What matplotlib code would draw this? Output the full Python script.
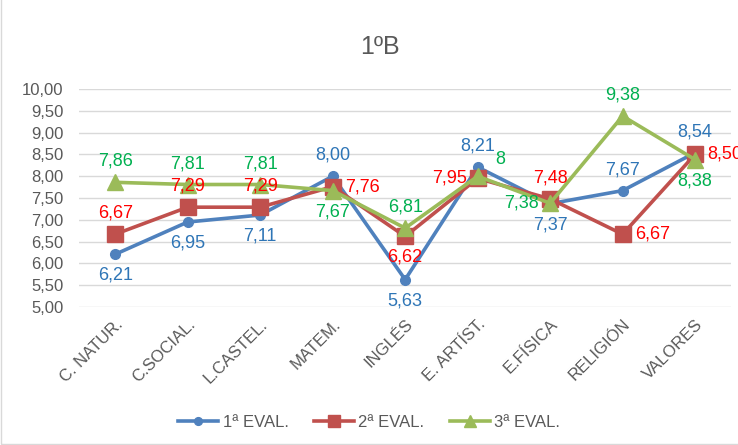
import matplotlib
matplotlib.use("Agg")
import matplotlib.pyplot as plt
from matplotlib.patches import Rectangle

plt.rcParams['font.family'] = ['Liberation Sans', 'DejaVu Sans']

# datos
materias = ["C. NATUR.", "C.SOCIAL.", "L.CASTEL.", "MATEM.", "INGLÉS",
            "E. ARTÍST.", "E.FÍSICA", "RELIGIÓN", "VALORES"]
eval1 = [6.21, 6.95, 7.11, 8.00, 5.63, 8.21, 7.37, 7.67, 8.54]
eval2 = [6.67, 7.29, 7.29, 7.76, 6.62, 7.95, 7.48, 6.67, 8.50]
eval3 = [7.86, 7.81, 7.81, 7.67, 6.81, 8.00, 7.38, 9.38, 8.38]
etiq1 = ["6,21", "6,95", "7,11", "8,00", "5,63", "8,21", "7,37", "7,67", "8,54"]
etiq2 = ["6,67", "7,29", "7,29", "7,76", "6,62", "7,95", "7,48", "6,67", "8,50"]
etiq3 = ["7,86", "7,81", "7,81", "7,67", "6,81", "8", "7,38", "9,38", "8,38"]
yticks = [5.0, 5.5, 6.0, 6.5, 7.0, 7.5, 8.0, 8.5, 9.0, 9.5, 10.0]

# posiciones de las etiquetas
pos1 = ["b", "b", "b", "a", "b", "a", "b", "a", "a"]
pos2 = ["a", "a", "a", "r", "b", "l", "a", "r", "r"]
pos3 = ["a", "a", "a", "b", "a", "ar", "l", "a", "b"]

offs = {"a": (0, 9, "center", "bottom"), "b": (0, -9, "center", "top"),
        "r": (9, 0, "left", "center"), "l": (-8, 0, "right", "center"),
        "ar": (13, 6, "left", "bottom")}

fig = plt.figure(figsize=(7.38, 4.45), dpi=100)
ax = fig.add_axes([0.107, 0.31, 0.884, 0.49])

x = list(range(len(materias)))
series = [
    (eval1, etiq1, pos1, "1ª EVAL.", "#4F81BD", "#2E75B6", "o", 7),
    (eval2, etiq2, pos2, "2ª EVAL.", "#C0504D", "#FF0000", "s", 11),
    (eval3, etiq3, pos3, "3ª EVAL.", "#9BBB59", "#00B050", "^", 11),
]
for vals, etiq, pos, nombre, col, colt, mk, ms in series:
    ax.plot(x, vals, color=col, lw=2.6, marker=mk, markersize=ms, label=nombre, zorder=3)
    for xi, v, t, p in zip(x, vals, etiq, pos):
        dx, dy, ha, va = offs[p]
        ax.annotate(t, (xi, v), xytext=(dx, dy), textcoords="offset points",
                    ha=ha, va=va, color=colt, fontsize=13, annotation_clip=False, zorder=4)

ax.set_xlim(-0.5, len(materias) - 0.5)
ax.set_ylim(5, 10)
ax.set_yticks(yticks)
ax.set_yticklabels([f"{t:.2f}".replace(".", ",") for t in yticks], color="#595959", fontsize=12)
ax.set_xticks(x)
ax.set_xticklabels(materias, rotation=45, ha="right", rotation_mode="anchor",
                   color="#595959", fontsize=12)
ax.tick_params(axis="y", length=0, pad=11)
ax.tick_params(axis="x", length=0, pad=7)
ax.grid(axis="y", color="#D9D9D9", lw=1)
for s in ax.spines.values():
    s.set_visible(False)

fig.text(0.515, 0.895, "1ºB", ha="center", va="center", fontsize=18, color="#595959")

ax.legend(loc="center", bbox_to_anchor=(0.5, 0.05), bbox_transform=fig.transFigure,
          ncol=3, frameon=False, fontsize=12, labelcolor="#595959",
          handlelength=2.4, columnspacing=1.5, handletextpad=0.3, markerscale=0.8)

fig.patches.append(Rectangle((0.002, 0.002), 1.5, 1.5, transform=fig.transFigure,
                             fill=False, edgecolor="#D9D9D9", lw=1))

fig.savefig("out.png", dpi=100)
